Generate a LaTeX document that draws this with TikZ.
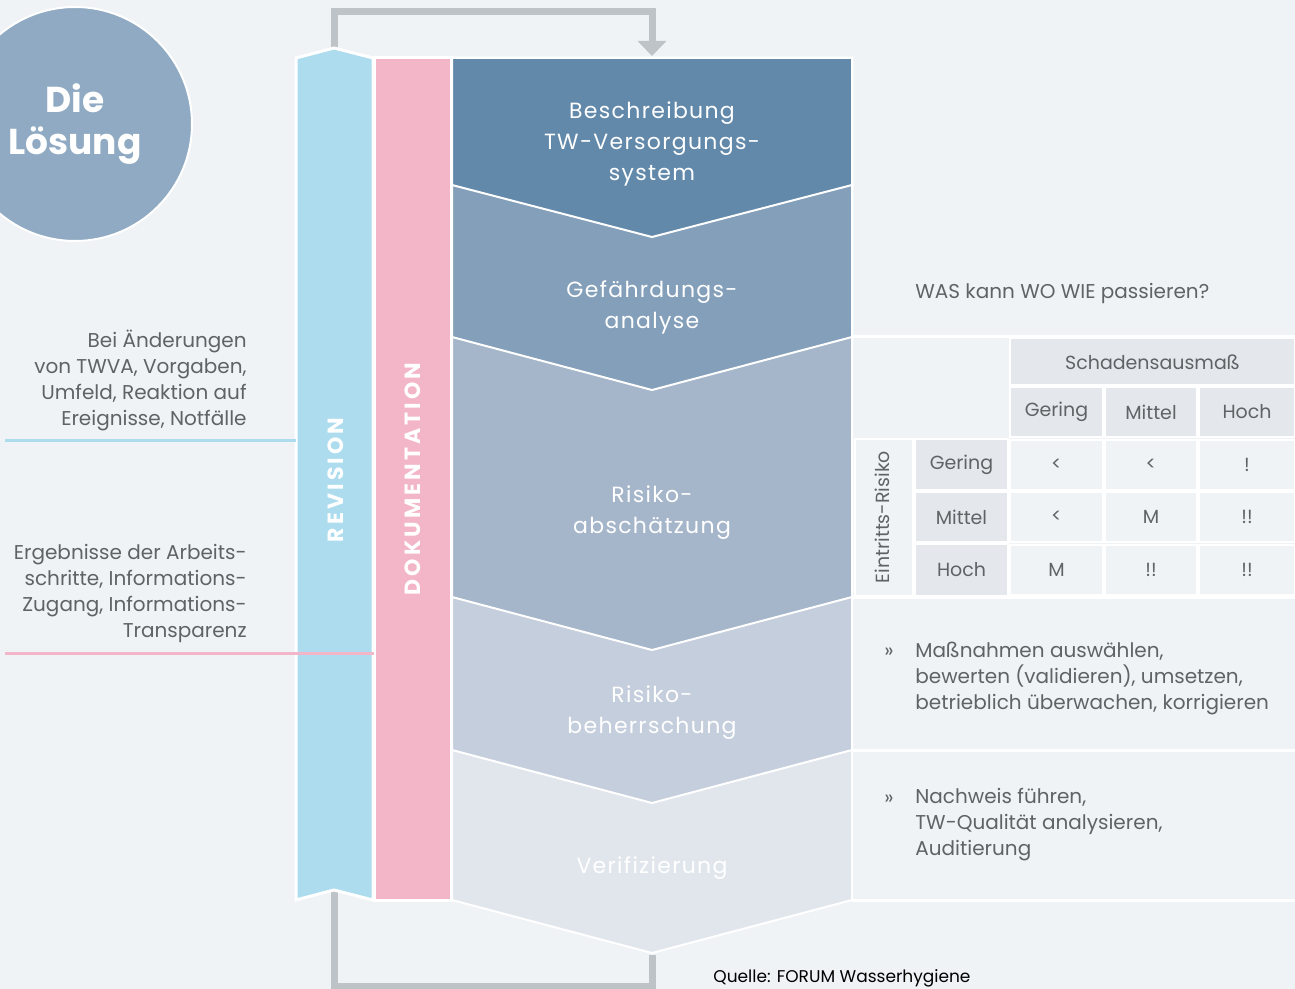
\documentclass[tikz,border=0pt]{standalone}
\usepackage{fontspec}
\setmainfont{Poppins}
\newfontfamily\spacedfont[LetterSpace=6]{Poppins}
\newfontfamily\capsfont[LetterSpace=14]{Poppins}
\usetikzlibrary{arrows.meta}
\definecolor{bg}{HTML}{EFF3F6}
\definecolor{circ}{HTML}{8FAAC2}
\definecolor{rev}{HTML}{ADDCEE}
\definecolor{doku}{HTML}{F3B5C8}
\definecolor{stA}{HTML}{6289AA}
\definecolor{stB}{HTML}{849FB9}
\definecolor{stC}{HTML}{A5B5CA}
\definecolor{stD}{HTML}{C5CEDC}
\definecolor{stE}{HTML}{E1E6ED}
\definecolor{loopgray}{HTML}{BDC3C7}
\definecolor{txt}{HTML}{5F6366}
\definecolor{hdr}{HTML}{E4E8EC}
\begin{document}
\begin{tikzpicture}[x=0.5pt,y=-0.5pt,
  chev/.style={draw=white, line width=1pt},
  stage/.style={text=white, align=center, font=\spacedfont\fontsize{11}{15.5}\selectfont},
  colname/.style={text=white, font=\capsfont\bfseries\fontsize{11}{13}\selectfont, rotate=90},
  note/.style={text=txt, inner sep=0pt, font=\fontsize{10}{13}\selectfont},
  feedback/.style={draw=loopgray, line width=3.5pt},
  sep/.style={draw=white, line width=1.5pt},
  cell/.style={draw=white, line width=1pt, inner sep=0pt, text=txt,
    font=\fontsize{9.5}{11}\selectfont},
  hcell/.style={cell, fill=hdr},
  dcell/.style={cell, fill=bg, minimum height=25pt}
]
\fill[bg] (0,0) rectangle (1295,989);
\useasboundingbox (0,0) rectangle (1295,989);

% circle
\node[circle, fill=circ, draw=white, line width=1pt, minimum size=117pt,
  text=white, align=center, font=\bfseries\fontsize{18}{21}\selectfont]
  (loesung) at (75,124) {Die\\Lösung};

% feedback loops
\coordinate (revtop) at (334,48);
\coordinate (revbot) at (334,891);
\coordinate (chtop) at (652,56);
\coordinate (chbot) at (652,955);
\draw[feedback, -{Triangle[width=14pt, length=7.5pt]}]
  (revtop) |- (493,12) -| (chtop);
\draw[feedback] (revbot) |- (493,986) -| (chbot);

% stages
\foreach \s/\t/\c in {900/953/stE, 750/803/stD, 597/650/stC, 337/390/stB, 185/237/stA}
  \draw[chev, fill=\c] (452,58) -- (852,58) -- (852,\s) -- (652,\t) -- (452,\s) -- cycle;

\node[stage] (beschr) at (652,144) {Beschreibung\\TW-Versorgungs-\\system};
\node[stage] (gefahr) at (652,307) {Gefährdungs-\\analyse};
\node[stage] (abschaetz) at (652,513) {Risiko-\\abschätzung};
\node[stage] (beherr) at (652,713) {Risiko-\\beherrschung};
\node[stage] (verif) at (652,868) {Verifizierung};

% side columns
\draw[sep, fill=rev] (296,58) -- (334,48) -- (373,58) -- (373,900) -- (334,890) -- (296,900) -- cycle;
\draw[sep, fill=doku] (374,58) rectangle (451,900);
\node[colname] (revision) at (336,480) {REVISION};
\node[colname] (doku) at (413,479) {DOKUMENTATION};

% left notes
\coordinate (revline) at (5,440);
\coordinate (dokuline) at (5,653);
\draw[draw=rev, line width=1.5pt] (revline) -- (296,440);
\draw[draw=doku, line width=1.5pt] (dokuline) -- (374,653);
\node[note, align=right, anchor=east] (aenderung) at (247,380)
  {Bei Änderungen\\von TWVA, Vorgaben,\\Umfeld, Reaktion auf\\Ereignisse, Notfälle};
\node[note, align=right, anchor=east] (ergebnis) at (247,593)
  {Ergebnisse der Arbeits-\\schritte, Informations-\\Zugang, Informations-\\Transparenz};

% right side
\foreach \y in {337,597,750,900}
  \draw[sep] (852,\y) -- (1295,\y);
\node[note, anchor=west] (was) at (915,293) {WAS kann WO WIE passieren?};

% risk matrix
\node[hcell, minimum width=142.5pt, minimum height=23.5pt] (schaden) at (1152.5,362) {Schadensausmaß};
\node[hcell, minimum width=46.5pt, minimum height=25pt] (cg) at (1056.5,412) {Gering};
\node[hcell, minimum width=46pt, minimum height=25pt] (cm) at (1151,412) {Mittel};
\node[hcell, minimum width=48pt, minimum height=25pt] (ch) at (1247,412) {Hoch};
\node[hcell, minimum width=46.5pt, minimum height=25.5pt] (rg) at (961.5,464.5) {Gering};
\node[hcell, minimum width=46.5pt, minimum height=25pt] (rm) at (961.5,517) {Mittel};
\node[hcell, minimum width=46.5pt, minimum height=26pt] (rh) at (961.5,570) {Hoch};
\node[cell, fill=bg, minimum width=29pt, minimum height=78.5pt] (eintritt) at (884,517) {};
\node[text=txt, rotate=90, font=\fontsize{9.5}{11}\selectfont] (eintrittlabel) at (882,517) {Eintritts-Risiko};
\node[dcell, minimum width=46.5pt] (gg) at (1056.5,464.5) {<};
\node[dcell, minimum width=46pt] (gm) at (1151,464.5) {<};
\node[dcell, minimum width=48pt] (gh) at (1247,464.5) {!};
\node[dcell, minimum width=46.5pt] (mg) at (1056.5,517) {<};
\node[dcell, minimum width=46pt] (mm) at (1151,517) {M};
\node[dcell, minimum width=48pt] (mh) at (1247,517) {!!};
\node[dcell, minimum width=46.5pt] (hg) at (1056.5,570) {M};
\node[dcell, minimum width=46pt] (hm) at (1151,570) {!!};
\node[dcell, minimum width=48pt] (hh) at (1247,570) {!!};

% measures
\node[note] (bulletA) at (889,653) {»};
\node[note, align=left, anchor=west] (massnahmen) at (915,678)
  {Maßnahmen auswählen,\\bewerten (validieren), umsetzen,\\betrieblich überwachen, korrigieren};
\node[note] (bulletB) at (889,800) {»};
\node[note, align=left, anchor=west] (nachweis) at (915,825)
  {Nachweis führen,\\TW-Qualität analysieren,\\Auditierung};

\node[anchor=west, inner sep=0pt, text=black, font=\fontsize{8.5}{10}\selectfont] (quelle) at (713,978) {Quelle: FORUM Wasserhygiene};
\end{tikzpicture}
\end{document}
